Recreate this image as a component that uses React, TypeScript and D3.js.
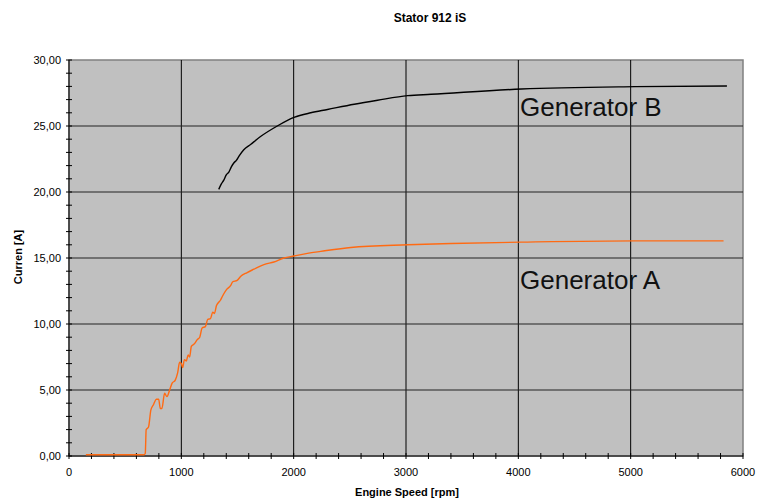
import { useEffect, useRef } from "react";
import * as d3 from "d3";

// Generator A (orange)
const rpmA = [150, 670, 679, 687, 708, 729, 753, 777, 798, 813, 827, 851, 872, 896, 917, 946, 967, 985, 1000, 1012, 1027, 1045, 1060, 1074, 1089, 1116, 1140, 1164, 1185, 1214, 1235, 1259, 1280, 1295, 1313, 1348, 1366, 1402, 1438, 1458, 1497, 1527, 1586, 1646, 1735, 1824, 1914, 2003, 2122, 2241, 2509, 3015, 3402, 4027, 5039, 5827];
const curA = [0.1, 0.1, 0.2, 2.0, 2.2, 3.5, 3.9, 4.3, 4.3, 3.6, 3.6, 4.75, 4.5, 5.0, 5.5, 5.75, 6.3, 7.1, 7.0, 6.7, 7.3, 7.2, 7.65, 7.5, 8.3, 8.5, 8.8, 9.0, 9.7, 9.8, 10.35, 10.4, 10.9, 10.8, 11.4, 11.8, 12.1, 12.6, 12.9, 13.2, 13.3, 13.6, 13.9, 14.15, 14.5, 14.7, 15.0, 15.15, 15.35, 15.5, 15.8, 16.0, 16.1, 16.2, 16.3, 16.3];

// Generator B (black)
const rpmB = [1333, 1355, 1378, 1400, 1423, 1445, 1467, 1490, 1512, 1556, 1616, 1705, 1854, 2003, 2152, 2301, 2539, 2747, 3015, 3223, 4027, 5039, 5857];
const curB = [20.2, 20.6, 20.9, 21.3, 21.5, 21.9, 22.2, 22.4, 22.7, 23.2, 23.6, 24.2, 25.0, 25.65, 26.0, 26.25, 26.65, 26.95, 27.3, 27.4, 27.8, 27.98, 28.03];

const xTicks = [0, 1000, 2000, 3000, 4000, 5000, 6000];
const yTicks = [0, 5, 10, 15, 20, 25, 30];

const W = 759;
const H = 500;
const m = { left: 69, top: 60, right: 16, bottom: 44 };
const font = "Liberation Sans, Arial, sans-serif";

export default function App() {
  const ref = useRef<SVGSVGElement>(null);

  useEffect(() => {
    const svg = d3.select(ref.current);
    svg.selectAll("*").remove();

    const x = d3.scaleLinear().domain([0, 6000]).range([m.left, W - m.right]);
    const y = d3.scaleLinear().domain([0, 30]).range([H - m.bottom, m.top]);

    // plot background
    svg
      .append("rect")
      .attr("x", x(0))
      .attr("y", y(30))
      .attr("width", x(6000) - x(0))
      .attr("height", y(0) - y(30))
      .attr("fill", "#c0c0c0")
      .attr("stroke", "#808080")
      .attr("stroke-width", 1.5);

    // grid
    svg
      .append("g")
      .selectAll("line")
      .data(xTicks.slice(1, -1))
      .join("line")
      .attr("x1", (d) => x(d))
      .attr("x2", (d) => x(d))
      .attr("y1", y(0))
      .attr("y2", y(30))
      .attr("stroke", "#000")
      .attr("stroke-width", 1);
    svg
      .append("g")
      .selectAll("line")
      .data(yTicks.slice(1, -1))
      .join("line")
      .attr("x1", x(0))
      .attr("x2", x(6000))
      .attr("y1", (d) => y(d))
      .attr("y2", (d) => y(d))
      .attr("stroke", "#222")
      .attr("stroke-width", 1);

    // axes lines
    svg
      .append("line")
      .attr("x1", x(0))
      .attr("x2", x(6000))
      .attr("y1", y(0))
      .attr("y2", y(0))
      .attr("stroke", "#333")
      .attr("stroke-width", 1.5);
    svg
      .append("line")
      .attr("x1", x(0))
      .attr("x2", x(0))
      .attr("y1", y(0))
      .attr("y2", y(30))
      .attr("stroke", "#333")
      .attr("stroke-width", 1.5);

    // ticks (crossing the axis)
    svg
      .append("g")
      .selectAll("line")
      .data(d3.range(0, 6001, 200))
      .join("line")
      .attr("x1", (d) => x(d))
      .attr("x2", (d) => x(d))
      .attr("y1", y(0) - 3)
      .attr("y2", y(0) + 3)
      .attr("stroke", "#000");
    svg
      .append("g")
      .selectAll("line")
      .data(d3.range(0, 31, 1))
      .join("line")
      .attr("x1", x(0) - 3)
      .attr("x2", x(0) + 3)
      .attr("y1", (d) => y(d))
      .attr("y2", (d) => y(d))
      .attr("stroke", "#000");

    // tick labels
    svg
      .append("g")
      .selectAll("text")
      .data(xTicks)
      .join("text")
      .attr("x", (d) => x(d))
      .attr("y", y(0) + 20)
      .attr("text-anchor", "middle")
      .attr("font-family", font)
      .attr("font-size", 11)
      .text((d) => String(d));
    svg
      .append("g")
      .selectAll("text")
      .data(yTicks)
      .join("text")
      .attr("x", x(0) - 8)
      .attr("y", (d) => y(d) + 4)
      .attr("text-anchor", "end")
      .attr("font-family", font)
      .attr("font-size", 11)
      .text((d) => d.toFixed(2).replace(".", ","));

    // series
    const line = d3
      .line<[number, number]>()
      .curve(d3.curveMonotoneX)
      .x((d) => x(d[0]))
      .y((d) => y(d[1]));
    svg
      .append("path")
      .datum(rpmA.map((r, i) => [r, curA[i]] as [number, number]))
      .attr("d", line)
      .attr("fill", "none")
      .attr("stroke", "#ff6a13")
      .attr("stroke-width", 1.4);
    svg
      .append("path")
      .datum(rpmB.map((r, i) => [r, curB[i]] as [number, number]))
      .attr("d", line)
      .attr("fill", "none")
      .attr("stroke", "#000")
      .attr("stroke-width", 1.4);

    // series labels
    svg
      .append("text")
      .attr("x", 520)
      .attr("y", 116)
      .attr("font-family", font)
      .attr("font-size", 26)
      .attr("fill", "#111")
      .text("Generator B");
    svg
      .append("text")
      .attr("x", 520)
      .attr("y", 289)
      .attr("font-family", font)
      .attr("font-size", 26)
      .attr("fill", "#111")
      .text("Generator A");

    // titles
    svg
      .append("text")
      .attr("x", 430)
      .attr("y", 22)
      .attr("text-anchor", "middle")
      .attr("font-family", font)
      .attr("font-weight", "bold")
      .attr("font-size", 12)
      .text("Stator 912 iS");
    svg
      .append("text")
      .attr("x", 407)
      .attr("y", 496)
      .attr("text-anchor", "middle")
      .attr("font-family", font)
      .attr("font-weight", "bold")
      .attr("font-size", 11)
      .text("Engine Speed [rpm]");
    svg
      .append("text")
      .attr("transform", `translate(22, 257) rotate(-90)`)
      .attr("text-anchor", "middle")
      .attr("font-family", font)
      .attr("font-weight", "bold")
      .attr("font-size", 11)
      .text("Curren [A]");
  }, []);

  return (
    <svg
      ref={ref}
      width={W}
      height={H}
      style={{ position: "absolute", left: 0, top: 0, background: "#fff" }}
    />
  );
}
